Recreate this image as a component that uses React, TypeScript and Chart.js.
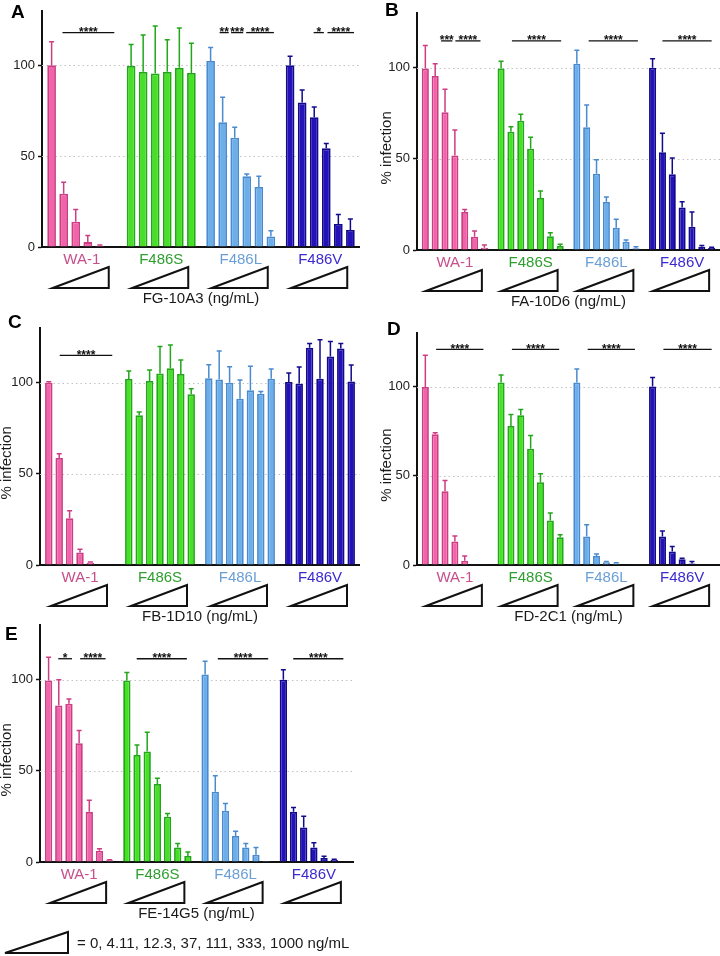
import React, { useEffect, useRef } from "react";
import { Chart, registerables } from "chart.js";

Chart.register(...registerables);

const FONT = '"Liberation Sans", Arial, Helvetica, sans-serif';

// ---------- shared categories / labels ----------
const groups = ["WA-1", "F486S", "F486L", "F486V"];
const doses = ["0", "4.11", "12.3", "37", "111", "333", "1000"];
const yTicks = [0, 50, 100];
const doseLegend = "= 0, 4.11, 12.3, 37, 111, 333, 1000 ng/mL";

const groupFill = ["#f064aa", "#46e024", "#6caeea", "#2412b8"];
const groupBorder = ["#cc3d84", "#22a61a", "#4a8bd0", "#120a8c"];
const groupText = ["#c64f8c", "#2e9e2e", "#6a9fd6", "#3a2ad0"];

// ---------- A: FG-10A3 (rows = groups, columns = doses) ----------
const fg10a3Mean = [
  [100, 29.3, 13.9, 2.7, 0.7, 0.3],
  [99.6, 96.4, 95.5, 96.4, 98.6, 95.8],
  [102.4, 68.7, 60.1, 38.9, 33, 5.8],
  [100, 79.5, 71.4, 54.3, 12.7, 9.4],
];
const fg10a3Sd = [
  [13, 6.4, 6.8, 3.6, 0.4, 0],
  [11.8, 20.3, 26.2, 17.7, 21.9, 16.3],
  [7.4, 13.7, 5.8, 1.3, 5.9, 3.1],
  [5, 6.9, 5.6, 2.6, 5.2, 6],
];
const fg10a3Sig: [number, number, number, string][] = [
  [0, 0.9, 5.2, "****"],
  [2, 0.75, 1.5, "**"],
  [2, 1.7, 2.7, "***"],
  [2, 2.95, 5.25, "****"],
  [3, 1.95, 2.8, "*"],
  [3, 3.1, 5.3, "****"],
];

// ---------- B: FA-10D6 ----------
const fa10d6Mean = [
  [99.5, 95.5, 75.5, 51.8, 20.9, 7.3, 1.3],
  [99.5, 64.9, 70.9, 55.5, 28.5, 7.6, 2.2],
  [102.2, 67.3, 41.8, 26.4, 12.2, 4.5, 0.9],
  [100, 53.6, 41.5, 23.3, 12.7, 1.8, 1.1],
];
const fa10d6Sd = [
  [12.7, 6.7, 12.7, 14, 1.3, 3.1, 1.4],
  [4.1, 2.7, 3.6, 6.3, 3.9, 1.9, 0.9],
  [7.3, 12.3, 7.7, 2.7, 4.7, 1, 0.9],
  [4.9, 10.4, 9, 3.1, 8.2, 0.7, 0.4],
];
const fa10d6Sig: [number, number, number, string][] = [
  [0, 1.6, 2.75, "***"],
  [0, 3.05, 5.6, "****"],
  [1, 1.1, 6.1, "****"],
  [2, 1.2, 6.2, "****"],
  [3, 1.0, 6.0, "****"],
];

// ---------- C: FB-1D10 ----------
const fb1d10Mean = [
  [100, 58.7, 25.7, 6.8, 1.3, 0.3, 0.3],
  [102, 82.2, 100.9, 105.1, 107.9, 104.8, 93.6],
  [102.4, 101.7, 100, 91.2, 95.8, 93.9, 102.2],
  [100.4, 99.4, 119.1, 102.2, 114.3, 118.7, 100.7],
];
const fb1d10Sd = [
  [0.5, 2.3, 4, 1.8, 0.3, 0, 0],
  [4.4, 1.7, 6.1, 14.7, 12.8, 7.7, 3.1],
  [7.5, 15.7, 8.8, 10.3, 13.2, 1.3, 5.3],
  [4.9, 9.2, 2.4, 21.3, 8.3, 2.8, 9],
];
const fb1d10Sig: [number, number, number, string][] = [[0, 1.05, 6.1, "****"]];

// ---------- D: FD-2C1 ----------
const fd2c1Mean = [
  [99.8, 73.2, 41.3, 13.1, 2.4, 0.1, 0.1],
  [102.3, 77.9, 83.9, 65.1, 46.3, 25, 15.6],
  [102.3, 15.9, 5.1, 1.5, 0.8, 0.3, 0.2],
  [100, 15.9, 7.5, 3.2, 0.9, 0.3, 0.2],
];
const fd2c1Sd = [
  [17.8, 0.9, 6, 3.2, 2.7, 0, 0],
  [4.1, 6.5, 3.3, 7.5, 4.9, 4.1, 1.3],
  [7.5, 6.6, 1.1, 0.4, 0.4, 0, 0],
  [5, 3.2, 2.8, 0.6, 1, 0, 0],
];
const fd2c1Sig: [number, number, number, string][] = [
  [0, 1.1, 5.9, "****"],
  [1, 1.1, 5.9, "****"],
  [2, 1.1, 5.9, "****"],
  [3, 1.1, 6.0, "****"],
];

// ---------- E: FE-14G5 ----------
const fe14g5Mean = [
  [99.6, 85.9, 86.8, 65.1, 27.5, 6.2, 0.9],
  [99.6, 58.7, 60.6, 42.8, 24.8, 7.9, 3.3],
  [102.8, 38.5, 28.1, 14.3, 7.9, 4, 0.6],
  [100, 27.5, 18.9, 7.9, 2.2, 1.3, 0.2],
];
const fe14g5Sd = [
  [12.7, 14.1, 2.6, 7, 6.4, 1.1, 0.4],
  [4.4, 5.5, 10.6, 3.1, 1.8, 2.2, 2.2],
  [7.3, 8.8, 4, 2.6, 2.2, 3.9, 0],
  [5.5, 2.4, 6.2, 2.7, 0.9, 0.2, 0],
];
const fe14g5Sig: [number, number, number, string][] = [
  [0, 0.95, 2.3, "*"],
  [0, 3.1, 5.6, "****"],
  [1, 0.97, 5.9, "****"],
  [2, 1.25, 6.2, "****"],
  [3, 0.97, 5.9, "****"],
];

// ---------- panel layout (positions / sizes only) ----------
type Layout = {
  left: number; top: number; width: number; height: number;
  padTop: number; padRight: number; yWidth: number; xHeight: number;
  letterX: number; letterY: number; yTitleX: number | null; sigY: number;
};

type PanelCfg = {
  letter: string; title: string;
  mean: number[][]; sd: number[][]; sig: [number, number, number, string][];
  L: Layout;
};

const panels: PanelCfg[] = [
  {
    letter: "A", title: "FG-10A3 (ng/mL)", mean: fg10a3Mean, sd: fg10a3Sd, sig: fg10a3Sig,
    L: { left: 0, top: 0, width: 360, height: 310, padTop: 8, padRight: 0, yWidth: 42, xHeight: 63, letterX: 11, letterY: 18, yTitleX: null, sigY: 118 },
  },
  {
    letter: "B", title: "FA-10D6 (ng/mL)", mean: fa10d6Mean, sd: fa10d6Sd, sig: fa10d6Sig,
    L: { left: 360, top: 0, width: 360, height: 310, padTop: 13, padRight: 0, yWidth: 57, xHeight: 60, letterX: 25, letterY: 16, yTitleX: 27, sigY: 114.7 },
  },
  {
    letter: "C", title: "FB-1D10 (ng/mL)", mean: fb1d10Mean, sd: fb1d10Sd, sig: fb1d10Sig,
    L: { left: 0, top: 310, width: 360, height: 316, padTop: 18, padRight: 0, yWidth: 40, xHeight: 61, letterX: 8, letterY: 18, yTitleX: 7, sigY: 115 },
  },
  {
    letter: "D", title: "FD-2C1 (ng/mL)", mean: fd2c1Mean, sd: fd2c1Sd, sig: fd2c1Sig,
    L: { left: 360, top: 310, width: 360, height: 316, padTop: 23, padRight: 0, yWidth: 57, xHeight: 61, letterX: 27, letterY: 25, yTitleX: 27, sigY: 120.8 },
  },
  {
    letter: "E", title: "FE-14G5 (ng/mL)", mean: fe14g5Mean, sd: fe14g5Sd, sig: fe14g5Sig,
    L: { left: 0, top: 612, width: 360, height: 312, padTop: 13, padRight: 7, yWidth: 40, xHeight: 62, letterX: 5, letterY: 28, yTitleX: 7, sigY: 111.5 },
  },
];

function PanelChart({ p }: { p: PanelCfg }) {
  const ref = useRef<HTMLCanvasElement | null>(null);
  useEffect(() => {
    const canvas = ref.current;
    if (!canvas) return;
    const L = p.L;
    const nDose = p.mean[0].length;
    const datasets = doses.slice(0, nDose).map((d, c) => ({
      label: d + " ng/mL",
      data: groups.map((_, g) => p.mean[g][c]),
      backgroundColor: groupFill,
      borderColor: groupBorder,
      borderWidth: 1.8,
      barPercentage: 0.72,
      categoryPercentage: 0.91,
    }));

    const overlay = {
      id: "overlay",
      beforeDatasetsDraw(chart: any) {
        const { ctx, chartArea, scales } = chart;
        const y = scales.y;
        ctx.save();
        ctx.strokeStyle = "#c2c2c2";
        ctx.lineWidth = 1;
        ctx.setLineDash([1.5, 3]);
        for (const v of yTicks) {
          if (v <= 0) continue;
          const py = Math.round(y.getPixelForValue(v)) + 0.5;
          ctx.beginPath();
          ctx.moveTo(chartArea.left, py);
          ctx.lineTo(chartArea.right, py);
          ctx.stroke();
        }
        ctx.restore();
      },
      afterDatasetsDraw(chart: any) {
        const { ctx, scales } = chart;
        const y = scales.y;
        ctx.save();
        ctx.lineWidth = 1.5;
        for (let c = 0; c < nDose; c++) {
          const meta = chart.getDatasetMeta(c);
          groups.forEach((_, g) => {
            const s = p.sd[g][c];
            if (!(s > 0)) return;
            const bar = meta.data[g];
            const v = p.mean[g][c];
            const y0 = y.getPixelForValue(v);
            const y1 = y.getPixelForValue(v + s);
            ctx.strokeStyle = groupBorder[g];
            ctx.beginPath();
            ctx.moveTo(bar.x, y0);
            ctx.lineTo(bar.x, y1);
            ctx.moveTo(bar.x - 2.5, y1);
            ctx.lineTo(bar.x + 2.5, y1);
            ctx.stroke();
          });
        }
        ctx.restore();
      },
      afterDraw(chart: any) {
        const { ctx, chartArea, scales } = chart;
        const x = scales.x;
        const y = scales.y;
        const bottom = chartArea.bottom;
        ctx.save();
        // group labels and dose triangles
        groups.forEach((name, g) => {
          const cx = x.getPixelForValue(g);
          ctx.fillStyle = groupText[g];
          ctx.font = `15px ${FONT}`;
          ctx.textAlign = "center";
          ctx.textBaseline = "middle";
          ctx.fillText(name, cx, bottom + 13);
          ctx.strokeStyle = "#111";
          ctx.lineWidth = 2;
          ctx.lineJoin = "miter";
          ctx.beginPath();
          ctx.moveTo(cx - 29, bottom + 41);
          ctx.lineTo(cx + 27, bottom + 20);
          ctx.lineTo(cx + 27, bottom + 41);
          ctx.closePath();
          ctx.stroke();
        });
        // x title
        ctx.fillStyle = "#1a1a1a";
        ctx.font = `15px ${FONT}`;
        ctx.textAlign = "center";
        ctx.textBaseline = "middle";
        ctx.fillText(p.title, (chartArea.left + chartArea.right) / 2, bottom + 52);
        // panel letter
        ctx.font = `bold 19px ${FONT}`;
        ctx.textAlign = "left";
        ctx.textBaseline = "alphabetic";
        ctx.fillStyle = "#000";
        ctx.fillText(p.letter, L.letterX, L.letterY);
        // y title
        if (L.yTitleX !== null) {
          ctx.save();
          ctx.translate(L.yTitleX, y.getPixelForValue(56));
          ctx.rotate(-Math.PI / 2);
          ctx.font = `15px ${FONT}`;
          ctx.textAlign = "center";
          ctx.textBaseline = "middle";
          ctx.fillStyle = "#1a1a1a";
          ctx.fillText("% infection", 0, 0);
          ctx.restore();
        }
        // significance bars
        const sy = y.getPixelForValue(L.sigY);
        p.sig.forEach(([g, a, b, label]) => {
          const m0 = chart.getDatasetMeta(0).data[g];
          const m1 = chart.getDatasetMeta(1).data[g];
          const step = m1.x - m0.x;
          const x1 = m0.x + a * step;
          const x2 = m0.x + b * step;
          ctx.strokeStyle = "#111";
          ctx.lineWidth = 1.3;
          ctx.beginPath();
          ctx.moveTo(x1, sy);
          ctx.lineTo(x2, sy);
          ctx.stroke();
          ctx.fillStyle = "#111";
          ctx.font = `bold 12px ${FONT}`;
          ctx.textAlign = "center";
          ctx.textBaseline = "alphabetic";
          ctx.fillText(label, (x1 + x2) / 2, sy + 3.5);
        });
        ctx.restore();
      },
    };

    const chart = new Chart(canvas, {
      type: "bar",
      data: { labels: groups, datasets },
      options: {
        animation: false,
        responsive: false,
        events: [],
        layout: { padding: { left: 0, top: L.padTop, right: L.padRight, bottom: 0 } },
        plugins: {
          legend: { display: false },
          tooltip: { enabled: false },
          title: { display: false },
        },
        scales: {
          x: {
            type: "category",
            z: 1,
            grid: { display: false },
            ticks: { display: false },
            border: { display: true, color: "#111", width: 2 },
            afterFit: (s: any) => {
              s.height = L.xHeight;
            },
          },
          y: {
            type: "linear",
            min: 0,
            max: 130,
            z: 1,
            afterBuildTicks: (s: any) => {
              s.ticks = yTicks.map((v) => ({ value: v }));
            },
            afterFit: (s: any) => {
              s.width = L.yWidth;
            },
            ticks: { font: { family: FONT, size: 13 }, color: "#222", padding: 3 },
            grid: { display: true, drawOnChartArea: false, drawTicks: true, tickLength: 4, tickColor: "#111", tickWidth: 1.5 },
            border: { display: true, color: "#111", width: 2 },
          },
        },
      } as any,
      plugins: [overlay],
    });
    return () => chart.destroy();
  }, [p]);

  return (
    <canvas
      ref={ref}
      width={p.L.width}
      height={p.L.height}
      style={{ position: "absolute", left: p.L.left, top: p.L.top, width: p.L.width, height: p.L.height }}
    />
  );
}

export default function App() {
  return (
    <div style={{ position: "absolute", left: 0, top: 0, width: 720, height: 956, background: "#fff", overflow: "hidden" }}>
      {panels.map((p) => (
        <PanelChart key={p.letter} p={p} />
      ))}
      <svg style={{ position: "absolute", left: 3, top: 930 }} width={68} height={26}>
        <polygon points="2,23 65,2 65,23" fill="none" stroke="#111" strokeWidth={2} />
      </svg>
      <div
        style={{
          position: "absolute",
          left: 77,
          top: 933,
          fontFamily: FONT,
          fontSize: 15,
          lineHeight: "20px",
          color: "#1a1a1a",
          whiteSpace: "nowrap",
        }}
      >
        {doseLegend}
      </div>
    </div>
  );
}
